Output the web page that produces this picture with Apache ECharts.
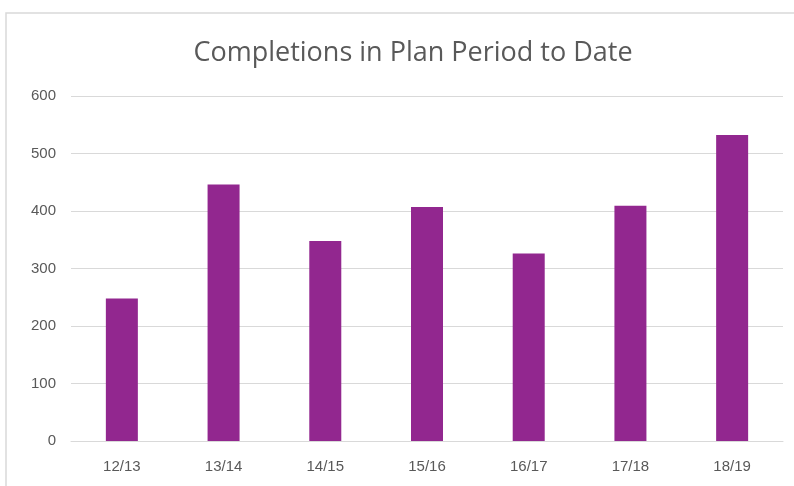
<!DOCTYPE html>
<html>
<head>
<meta charset="utf-8">
<script src="https://cdn.jsdelivr.net/npm/echarts@6/dist/echarts.min.js"></script>
<style>
  html, body { margin: 0; padding: 0; background: #fff; }
  #chart { width: 794px; height: 486px; }
</style>
</head>
<body>
<div id="chart"></div>
<script>
// data
const periods = ['12/13', '13/14', '14/15', '15/16', '16/17', '17/18', '18/19']
const completions = [248, 446, 348, 407, 326, 409, 532]
const yTicks = [0, 100, 200, 300, 400, 500, 600]

const myChart = echarts.init(document.getElementById('chart'))
const textColor = '#595959'
const option = {
  animation: false,
  textStyle: { fontFamily: 'Liberation Sans' },
  title: {
    text: 'Completions in Plan Period to Date',
    left: 408,
    top: 35,
    textAlign: 'center',
    textStyle: {
      fontFamily: 'Open Sans',
      fontWeight: 'normal',
      fontSize: 27,
      color: textColor
    }
  },
  // chart frame, partly cut off by the picture edge
  graphic: [{
    type: 'rect',
    shape: { x: 6, y: 13, width: 800, height: 490 },
    style: { fill: 'none', stroke: '#d9d9d9', lineWidth: 1.5 },
    silent: true
  }],
  grid: {
    left: 71,
    right: 11,
    top: 96,
    bottom: 45
  },
  xAxis: {
    type: 'category',
    data: periods,
    axisLine: { lineStyle: { color: '#d9d9d9', width: 1 } },
    axisTick: { show: false },
    axisLabel: {
      color: textColor,
      fontSize: 15,
      margin: 18
    }
  },
  yAxis: {
    type: 'value',
    min: yTicks[0],
    max: yTicks[yTicks.length - 1],
    interval: 100,
    axisLine: { show: false },
    axisTick: { show: false },
    splitLine: { lineStyle: { color: '#d9d9d9', width: 1 } },
    axisLabel: {
      color: textColor,
      fontSize: 15,
      margin: 15
    }
  },
  series: [{
    type: 'bar',
    data: completions,
    barWidth: 32,
    itemStyle: { color: '#92278f' }
  }]
}
myChart.setOption(option)
</script>
</body>
</html>
